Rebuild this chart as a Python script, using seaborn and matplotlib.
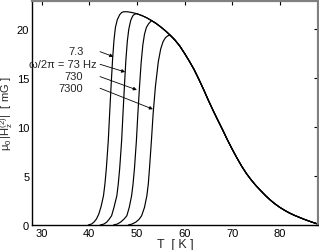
import matplotlib
matplotlib.use("Agg")
import matplotlib.pyplot as plt
import seaborn as sns
import pandas as pd

# ---- data ----
freq_labels = ["7.3", "73", "730", "7300"]

rise_T = [
    [39.8, 40.5, 41.0, 41.5, 42.0, 42.5, 43.0, 43.3, 43.6, 43.8, 44.0, 44.3,
     44.6, 44.9, 45.2, 45.5, 45.9, 46.4, 46.8],
    [42.3, 43.1, 43.7, 44.2, 44.7, 45.2, 45.8, 46.1, 46.4, 46.6, 46.8, 47.1,
     47.4, 47.7, 48.0, 48.3, 48.7, 49.1, 49.5],
    [45.1, 45.9, 46.6, 47.3, 47.9, 48.4, 48.9, 49.2, 49.5, 49.7, 49.9, 50.2,
     50.55, 50.9, 51.25, 51.6, 52.0, 52.5, 52.9],
    [48.2, 49.0, 49.8, 50.5, 51.0, 51.6, 52.1, 52.4, 52.65, 52.85, 53.05, 53.4,
     53.9, 54.5, 55.0, 55.5, 56.0, 56.5],
]
rise_v = [
    [0.0, 0.1, 0.3, 0.6, 1.1, 1.9, 3.0, 4.2, 5.8, 7.2, 8.6, 11.5, 14.3, 16.9,
     18.9, 20.2, 21.0, 21.5, 21.72],
    [0.0, 0.1, 0.3, 0.6, 0.95, 1.8, 3.0, 4.2, 5.8, 7.2, 8.6, 11.5, 14.3, 16.9,
     18.8, 20.0, 20.9, 21.35, 21.55],
    [0.0, 0.1, 0.3, 0.6, 0.95, 1.8, 3.0, 4.2, 5.8, 7.2, 8.6, 11.3, 14.1, 16.6,
     18.4, 19.5, 20.2, 20.6, 20.8],
    [0.0, 0.1, 0.3, 0.6, 0.95, 1.8, 3.0, 4.2, 5.8, 7.2, 8.6, 11.3, 14.2, 16.7,
     18.0, 18.75, 19.15, 19.35],
]

env_T = [47.2, 48, 49, 50, 51, 52, 53, 54, 55, 56, 57, 58, 59, 60, 61, 62,
         63, 64, 65, 66, 67, 68, 69, 70, 71, 72, 73, 74, 75, 76, 77, 78, 79,
         80, 81, 82, 83, 84, 85, 86, 87, 88]
env_v = [21.8, 21.8, 21.72, 21.6, 21.42, 21.2, 20.92, 20.62, 20.25, 19.85,
         19.4, 18.9, 18.3, 17.55, 16.75, 15.9, 14.9, 13.85, 12.75, 11.7, 10.7,
         9.72, 8.7, 7.75, 6.85, 6.0, 5.25, 4.6, 4.02, 3.5, 3.0, 2.55, 2.15,
         1.8, 1.5, 1.23, 1.0, 0.8, 0.6, 0.42, 0.25, 0.1]

ann_text = ["7.3", "ω/2π = 73 Hz", "730", "7300"]
ann_text_xy = [(38.76, 17.79), (41.58, 16.49), (38.76, 15.23), (38.76, 14.0)]
ann_start = [(42.27, 17.72), (42.27, 16.43), (42.27, 15.17), (42.27, 13.98)]
ann_end = [(45.07, 17.21), (47.54, 15.64), (50.0, 13.81), (53.37, 11.84)]

xticks = [30, 40, 50, 60, 70, 80]
yticks = [0, 5, 10, 15, 20]

# ---- build long table ----
rows = []
for lab, tt, vv in zip(freq_labels, rise_T, rise_v):
    for t, v in zip(tt, vv):
        rows.append((lab, t, v))
    for t, v in zip(env_T, env_v):
        if t > tt[-1]:
            rows.append((lab, t, v))
df = pd.DataFrame(rows, columns=["f", "T", "H"])

sns.set_style("white")
plt.rcParams["font.family"] = ["Liberation Sans", "DejaVu Sans"]
plt.rcParams["mathtext.default"] = "regular"
plt.rcParams["font.size"] = 8

fig = plt.figure(figsize=(3.19, 2.51), dpi=100)
ax = fig.add_axes([32 / 319, 25 / 251, 286 / 319, 224 / 251])

sns.lineplot(data=df, x="T", y="H", units="f", estimator=None, sort=False,
             color="black", linewidth=0.85, ax=ax, legend=False)

ax.set_xlim(28, 88)
ax.set_ylim(0, 22.9)
ax.set_xticks(xticks)
ax.set_yticks(yticks)
ax.tick_params(direction="in", length=3, width=0.8, top=True, right=True,
               labelsize=8, pad=2, colors="black")

for side in ["left", "bottom"]:
    ax.spines[side].set_color("black")
    ax.spines[side].set_linewidth(1.0)
for side in ["top", "right"]:
    ax.spines[side].set_color("#808080")
    ax.spines[side].set_linewidth(1.6)

ax.set_xlabel("T  [ K ]", fontsize=9, labelpad=0)
ax.set_ylabel(r"$\mu_0\,|H_z^{(2)}|$  [ mG ]", fontsize=8)
ax.yaxis.set_label_coords(-0.058, 0.5)

for txt, (tx, ty), s, e in zip(ann_text, ann_text_xy, ann_start, ann_end):
    ax.text(tx, ty, txt, ha="right", va="center", fontsize=8)
    ax.annotate("", xy=e, xytext=s,
                arrowprops=dict(arrowstyle="-|>", color="black", lw=0.6,
                                mutation_scale=5, shrinkA=0, shrinkB=0))

fig.savefig("out.png", dpi=100)
